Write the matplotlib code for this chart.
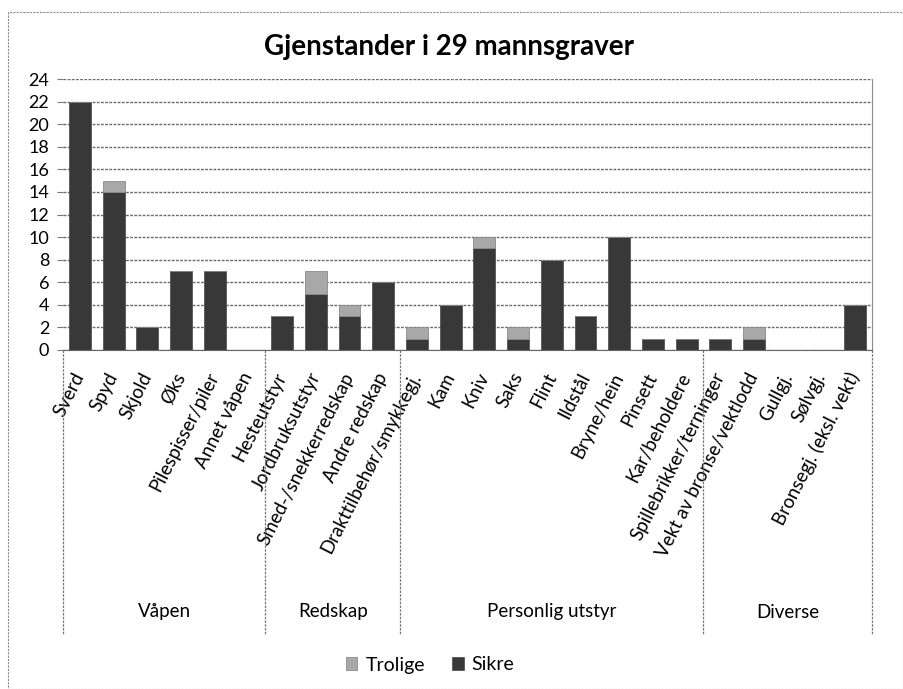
import matplotlib
matplotlib.use("Agg")
import matplotlib.pyplot as plt
from matplotlib.patches import Rectangle
import matplotlib.transforms as mtransforms
import numpy as np

plt.rcParams['font.family'] = ['Lato', 'DejaVu Sans']

categories = ["Sverd", "Spyd", "Skjold", "Øks", "Pilespisser/piler", "Annet våpen",
              "Hesteutstyr", "Jordbruksutstyr", "Smed-/snekkerredskap", "Andre redskap",
              "Drakttilbehør/smykkegj.", "Kam", "Kniv", "Saks", "Flint", "Ildstål",
              "Bryne/hein", "Pinsett", "Kar/beholdere",
              "Spillebrikker/terninger", "Vekt av bronse/vektlodd", "Gullgj.", "Sølvgj.",
              "Bronsegj. (eksl. vekt)"]
sikre = [22, 14, 2, 7, 7, 0,
         3, 5, 3, 6,
         1, 4, 9, 1, 8, 3, 10, 1, 1,
         1, 1, 0, 0, 4]
trolige = [0, 1, 0, 0, 0, 0,
           0, 2, 1, 0,
           1, 0, 1, 1, 0, 0, 0, 0, 0,
           0, 1, 0, 0, 0]
groups = ["Våpen", "Redskap", "Personlig utstyr", "Diverse"]
group_sizes = [6, 4, 9, 5]
yticks = list(range(0, 25, 2))

W, H = 904, 689
fig = plt.figure(figsize=(W / 100, H / 100), dpi=100)

# outer chart border
fig.patches.append(Rectangle((8 / W, 0.0), (W - 9) / W, (H - 12) / H, transform=fig.transFigure,
                             fill=False, edgecolor='#8c8c8c', linewidth=0.8, linestyle=(0, (2, 1))))

left, right, top, bottom = 63, 872, 79, 350
ax = fig.add_axes([left / W, 1 - bottom / H, (right - left) / W, (bottom - top) / H])

x = np.arange(len(categories))
bw = 0.65
ax.bar(x, sikre, width=bw, color='#383838', edgecolor='#555555', linewidth=0.6,
       label='Sikre', zorder=3)
ax.bar(x, trolige, width=bw, bottom=sikre, color='#a8a8a8', edgecolor='#8a8a8a',
       linewidth=0.6, label='Trolige', zorder=3)

ax.set_xlim(-0.5, len(categories) - 0.5)
ax.set_ylim(0, 24)
ax.set_yticks(yticks)
ax.set_yticklabels([str(v) for v in yticks], fontsize=13)
ax.tick_params(axis='y', length=4, color='#777777', pad=6)
ax.yaxis.grid(True, color='#6a6a6a', linewidth=1.0, linestyle=(0, (2, 1)))
ax.set_axisbelow(True)
for s in ['top', 'left']:
    ax.spines[s].set_visible(False)
ax.spines['right'].set_color('#8c8c8c')
ax.spines['right'].set_linestyle((0, (2, 1)))
ax.spines['bottom'].set_color('#666666')

ax.set_xticks(x)
ax.set_xticklabels(categories, rotation=63, ha='right', va='center',
                   rotation_mode='anchor', fontsize=13.5)
ax.tick_params(axis='x', length=0, pad=17)

# group separators and labels
trans = mtransforms.blended_transform_factory(ax.transData, ax.transAxes)
bounds = np.concatenate([[0], np.cumsum(group_sizes)]) - 0.5
sep_bottom = -(635 - bottom) / (bottom - top)
for b in bounds:
    ax.plot([b, b], [0, sep_bottom], transform=trans, color='#777777',
            linewidth=0.9, linestyle=(0, (2, 1)), clip_on=False)
lab_y = -(612 - bottom) / (bottom - top)
for i, g in enumerate(groups):
    cx = (bounds[i] + bounds[i + 1]) / 2
    ax.text(cx, lab_y, g, transform=trans, ha='center', va='center', fontsize=13.5)

fig.text(449 / W, 1 - 47 / H, "Gjenstander i 29 mannsgraver", ha='center', va='center',
         fontsize=20, fontweight='bold')

handles, labels = ax.get_legend_handles_labels()
fig.legend(handles[::-1], labels[::-1], loc='center', bbox_to_anchor=(430 / W, 1 - 665 / H),
           ncol=2, frameon=False, fontsize=14, handlelength=0.6, handleheight=0.6,
           handletextpad=0.4, columnspacing=1.4)

fig.savefig("out.png", dpi=100)
